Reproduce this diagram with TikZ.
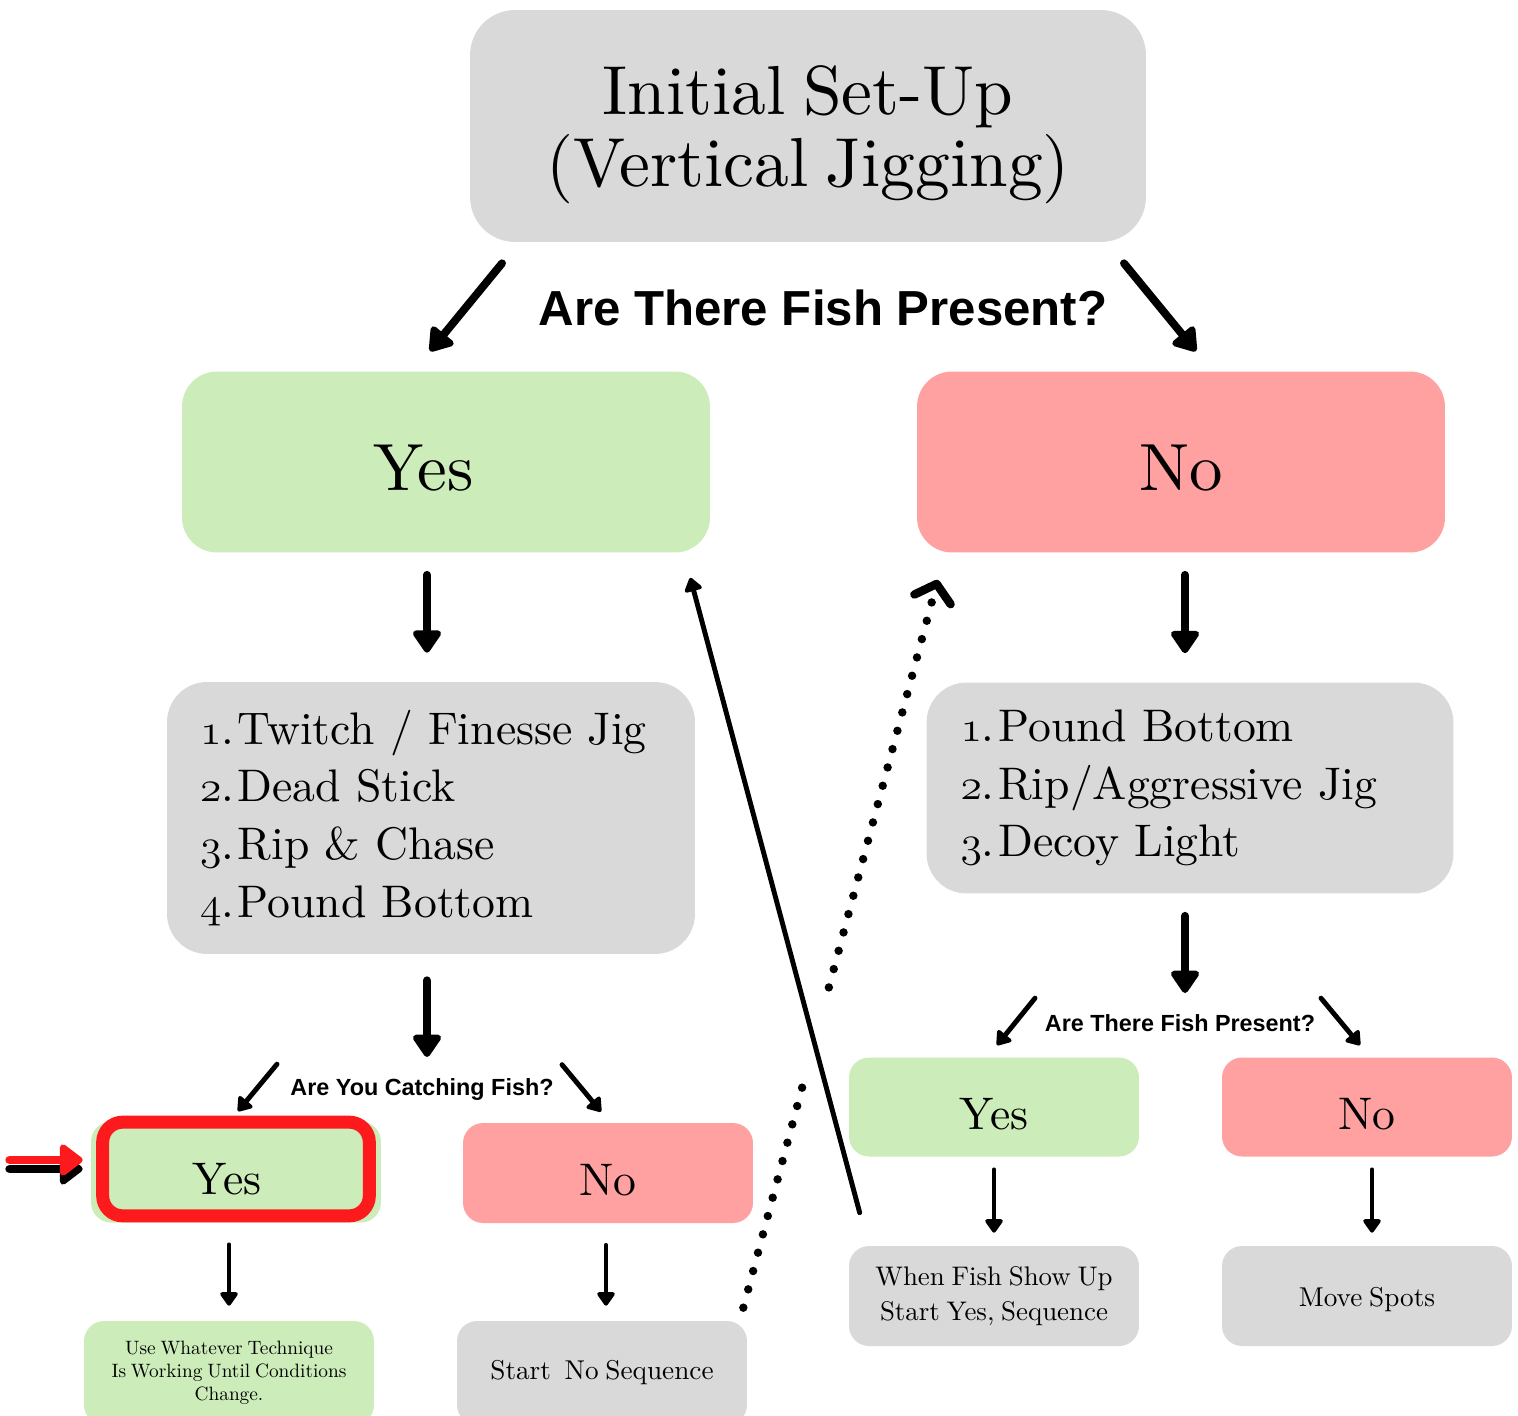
\documentclass[tikz,border=0pt]{standalone}
\usepackage{fontspec}
\setmainfont{lmroman10-regular.otf}[WordSpace=0.75]
\usepackage{tikz}
\usetikzlibrary{arrows.meta}
\usetikzlibrary{calc}
\newfontfamily\qfont{Liberation Sans}
\newcommand{\onum}[1]{{\usefont{OML}{lmm}{m}{it}#1}.\hspace{0.08em}}
\definecolor{boxgrey}{HTML}{D9D9D9}
\definecolor{yesgreen}{HTML}{CCEDBA}
\definecolor{nopink}{HTML}{FFA1A1}
\definecolor{hlred}{HTML}{FD1A1C}
\tikzset{
  panel/.style={rounded corners=0.4cm, inner sep=0pt, align=center},
  greybox/.style={panel, fill=boxgrey},
  greenbox/.style={panel, fill=yesgreen},
  pinkbox/.style={panel, fill=nopink},
  bigword/.style={font=\fontsize{38}{40}\selectfont, text height=33pt},
  smallword/.style={font=\fontsize{26}{28}\selectfont, text height=26pt},
  listtext/.style={align=left, font=\fontsize{26}{32.9}\selectfont},
  bigarrow/.style={line width=4.5pt, -{Triangle[length=0.5cm,width=0.64cm,round]}},
  smallarrow/.style={line width=2.8pt, -{Triangle[length=0.3cm,width=0.4cm,round]}},
  dotline/.style={line width=4.8pt, line cap=round, dash pattern=on 0pt off 10.8pt},
  question/.style={font=\qfont\bfseries\fontsize{13.3}{16}\selectfont},
}

\begin{document}
\begin{tikzpicture}[x=0.02cm,y=-0.02cm,line cap=round]
        \useasboundingbox (0,0) rectangle (1518,1416);
        \clip (0,0) rectangle (1518,1416);
        % top box and first question
        \node[greybox, rounded corners=0.9cm, minimum width=13.52cm, minimum height=4.64cm, text depth=0pt,
              font=\fontsize{39.5}{41}\selectfont] (setup) at (808,126) {Initial Set-Up\\(Vertical Jigging)};
        \node[font=\qfont\bfseries\fontsize{28}{32}\selectfont] (q1) at (823,308) {Are There Fish Present?};
        \node[greenbox, rounded corners=0.7cm, minimum width=10.56cm, minimum height=3.62cm, bigword] (yesA) at (446,462)
              {Yes\hspace*{0.9cm}};
        \node[pinkbox, rounded corners=0.7cm, minimum width=10.56cm, minimum height=3.62cm, bigword] (noA) at (1181,462) {No};
        % the two lists
        \node[greybox, rounded corners=0.8cm, minimum width=10.56cm, minimum height=5.44cm,
              text width=9.24cm, listtext] (listA) at (431,818)
              {\onum{1}Twitch / Finesse Jig\\\onum{2}Dead Stick\\\onum{3}Rip \& Chase\\\onum{4}Pound Bottom};
        \node[greybox, rounded corners=0.8cm, minimum width=10.54cm, minimum height=4.22cm,
              text width=9.18cm, listtext] (listB) at (1190,788)
              {\onum{1}Pound Bottom\\\onum{2}Rip/Aggressive Jig\\\onum{3}Decoy Light};
        % second questions
        \node[question] (q2) at (422,1089) {Are You Catching Fish?};
        \node[question] (q3) at (1180,1023) {Are There Fish Present?};
        \node[greenbox, minimum width=5.8cm, minimum height=2.02cm, smallword] (yesB) at (236,1172) {Yes\hspace*{0.36cm}};
        \node[pinkbox, minimum width=5.8cm, minimum height=2cm, smallword] (noB) at (608,1173) {No};
        \node[greenbox, minimum width=5.8cm, minimum height=1.98cm, smallword] (yesC) at (994,1107) {Yes};
        \node[pinkbox, minimum width=5.8cm, minimum height=1.98cm, smallword] (noC) at (1367,1107) {No};
        % bottom boxes
        \node[greenbox, minimum width=5.8cm, minimum height=2.08cm, font=\fontsize{11}{13}\selectfont] (tipA) at (229,1373)
              {Use Whatever Technique\\Is Working Until Conditions\\Change.};
        \node[greybox, minimum width=5.8cm, minimum height=2.08cm, font=\fontsize{15.5}{20}\selectfont] (startNo) at (602,1373)
              {Start~~No Sequence};
        \node[greybox, minimum width=5.8cm, minimum height=2cm, font=\fontsize{15.3}{19.8}\selectfont] (waitC) at (994,1296)
              {When Fish Show Up\\Start Yes, Sequence};
        \node[greybox, minimum width=5.8cm, minimum height=2cm, text height=15pt, font=\fontsize{15.5}{20}\selectfont] (moveC) at (1367,1296)
              {Move Spots};
        % red frame round the current step
        \draw[hlred, line width=7.4pt, rounded corners=0.4cm]
              ([shift={(12,1)}]yesB.north west) rectangle ([shift={(-12,-7)}]yesB.south east);
        % draw the arrows
        \draw[bigarrow] ([shift={(-306,21)}]setup.south) -- ([shift={(-16,-20)}]yesA.north);
        \draw[bigarrow] ([shift={(316,21)}]setup.south) -- ([shift={(15,-20)}]noA.north);
        \draw[bigarrow] ([shift={(-19,22)}]yesA.south) -- ([shift={(-4,-29)}]listA.north);
        \draw[bigarrow] ([shift={(4,22)}]noA.south) -- ([shift={(-5,-29)}]listB.north);
        \draw[bigarrow] ([shift={(-4,26)}]listA.south) -- ([shift={(5,-32)}]q2.center);
        \draw[bigarrow] ([shift={(-5,22)}]listB.south) -- ([shift={(5,-30)}]q3.center);
        \draw[smallarrow] ([shift={(41,-57)}]yesB.north) -- ([shift={(2,-10)}]yesB.north);
        \draw[smallarrow] ([shift={(-46,-58)}]noB.north) -- ([shift={(-7,-11)}]noB.north);
        \draw[smallarrow] ([shift={(41,-59)}]yesC.north) -- ([shift={(3,-12)}]yesC.north);
        \draw[smallarrow] ([shift={(-46,-59)}]noC.north) -- ([shift={(-7,-12)}]noC.north);
        \draw[smallarrow] ([shift={(-7,22)}]yesB.south) -- ([shift={(0,-15)}]tipA.north);
        \draw[smallarrow] ([shift={(-2,22)}]noB.south) -- ([shift={(4,-15)}]startNo.north);
        \draw[smallarrow] ([shift={(0,13)}]yesC.south) -- ([shift={(0,-13)}]waitC.north);
        \draw[smallarrow] ([shift={(5,13)}]noC.south) -- ([shift={(5,-13)}]moveC.north);
        % going back to yes / on to no
        \coordinate (backStart) at ([shift={(11,-33)}]waitC.north west);
        \coordinate (backEnd) at ([shift={(-20,25)}]yesA.south east);
        \draw[line width=2.8pt, -{Triangle[length=0.3cm,width=0.4cm,round]}] (backStart) -- (backEnd);
        \coordinate (dotStart) at ([shift={(-4,-13)}]startNo.north east);
        \coordinate (dotEnd) at ([shift={(21,27)}]noA.south west);
        \draw[dotline] (dotStart) -- ($(dotStart)!0.32!(dotEnd)$);
        \draw[dotline, -{Straight Barb[length=0.32cm,width=0.75cm,round]}] ($(dotStart)!0.44!(dotEnd)$) -- (dotEnd);
        % pointer to the current step
        \coordinate (ptr) at ([shift={(-8,-12)}]yesB.west);
        \draw[line width=5pt, -{Triangle[length=0.5cm,width=0.72cm,round]}] ($(ptr)+(0,9)$) ++(-73,0) -- ($(ptr)+(0,9)$);
        \draw[hlred, line width=5pt, -{Triangle[length=0.5cm,width=0.72cm,round]}] (ptr) ++(-73,0) -- (ptr);
    \end{tikzpicture}
\end{document}
